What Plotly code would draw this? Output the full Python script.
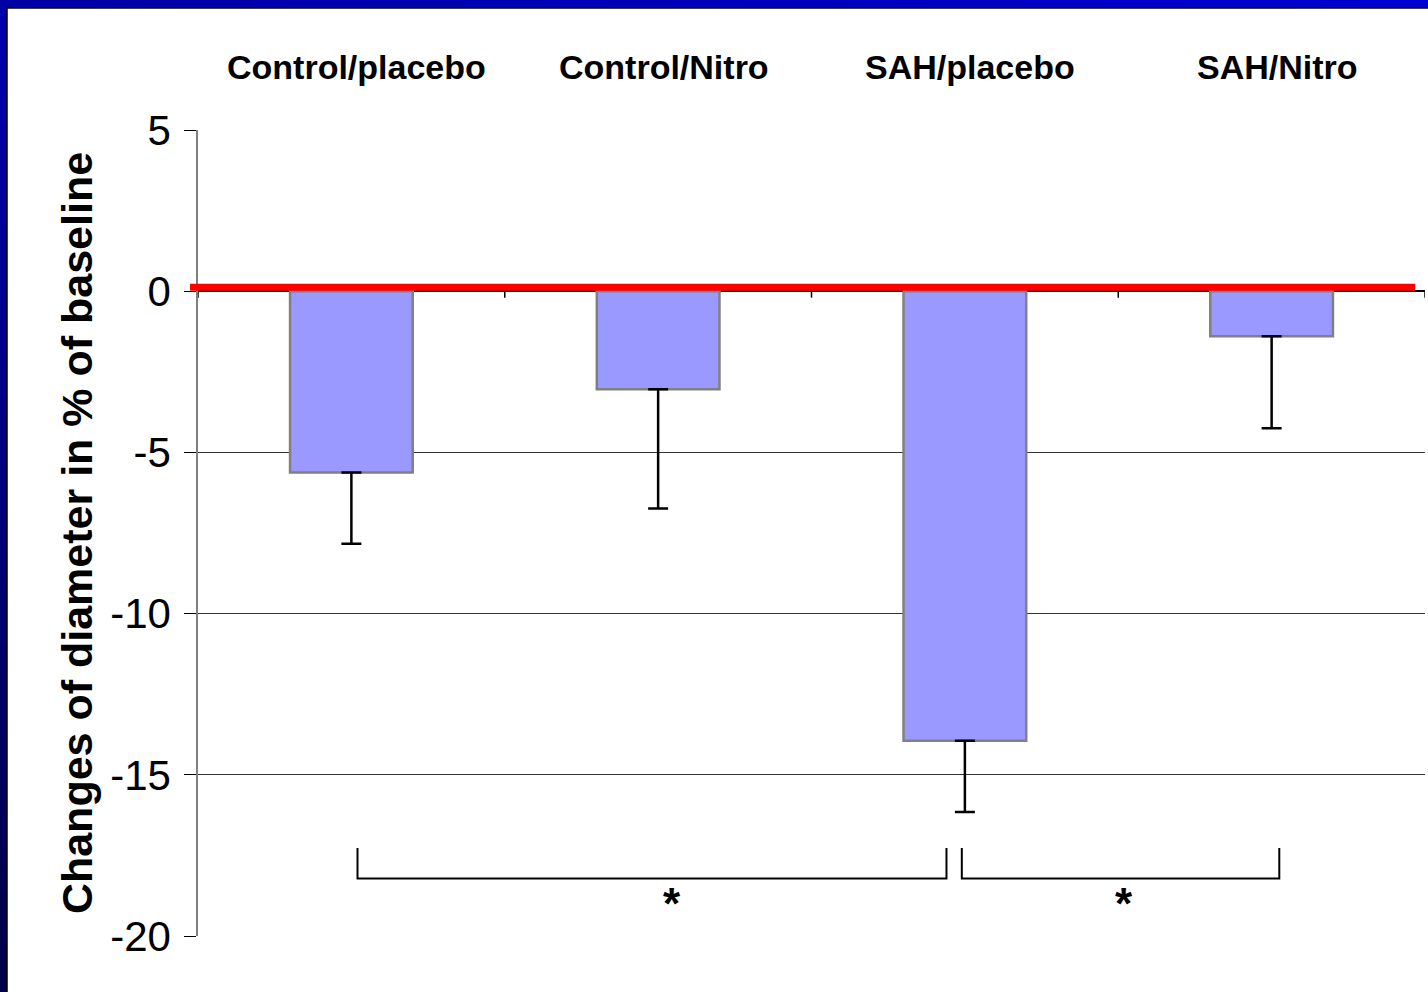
import plotly.graph_objects as go

# Group means and lower SEM of vessel diameter change (% of baseline)
groups = ["Control/placebo", "Control/Nitro", "SAH/placebo", "SAH/Nitro"]
mean_change = [-5.62, -3.04, -13.94, -1.40]
sem_minus = [2.21, 3.70, 2.21, 2.85]
y_ticks = [5, 0, -5, -10, -15, -20]

FONT = "Arial, Liberation Sans, sans-serif"
x_pos = list(range(len(groups)))

fig = go.Figure()
fig.add_trace(go.Bar(
    x=x_pos, y=mean_change, width=0.4,
    marker=dict(color="#9999FF", line=dict(color="#808080", width=2.5)),
    error_y=dict(type="data", symmetric=False, array=[0] * len(groups),
                 arrayminus=sem_minus, color="black", thickness=2.5, width=10),
    showlegend=False, hoverinfo="skip",
))

shapes = []
# category separators hanging below the zero line
for b in [i - 0.5 for i in range(len(groups) + 1)]:
    shapes.append(dict(type="line", xref="x", yref="y", x0=b, x1=b, y0=0, y1=-0.2,
                       line=dict(color="black", width=1.5)))
# red baseline at zero
shapes.append(dict(type="line", xref="paper", yref="y", x0=-0.0065, x1=0.992,
                   y0=0.12, y1=0.12, line=dict(color="#FF0000", width=7), layer="above"))

# significance brackets: (left x, right x, label x)
brackets = [(0.02, 1.94, 1.045), (1.99, 3.025, 2.52)]
br_y, br_top = -18.22, -17.27
for x0, x1, xs in brackets:
    shapes.append(dict(type="path", xref="x", yref="y",
                       path=f"M {x0},{br_top} L {x0},{br_y} L {x1},{br_y} L {x1},{br_top}",
                       line=dict(color="black", width=2)))

# blue slide frame (left and top edges) drawn in overlapping stepped shades
n = 40
px_h = 992 / 806
for k in range(n):
    t = k / (n - 1)
    c = (0, 0, int(175 - 100 * t))
    top = 1.1614 - (k / n) * px_h
    bot = 1.1614 - ((k + 1.5) / n) * px_h
    shapes.append(dict(type="rect", xref="paper", yref="paper",
                       x0=-198 / 1227, x1=-191 / 1227, y0=bot, y1=top,
                       fillcolor=f"rgb{c}", line=dict(width=0), layer="above"))
for k in range(n):
    t = k / (n - 1)
    c2 = (0, 0, int(165 + 45 * t))
    xa = (-198 + 1428 * k / n) / 1227
    xb = (-198 + 1428 * (k + 1.5) / n) / 1227
    shapes.append(dict(type="rect", xref="paper", yref="paper",
                       x0=xa, x1=xb, y0=(936 - 8) / 806, y1=936 / 806,
                       fillcolor=f"rgb{c2}", line=dict(width=0), layer="above"))
shapes.append(dict(type="line", xref="paper", yref="paper", x0=-191 / 1227, x1=-191 / 1227,
                   y0=(936 - 992) / 806, y1=(936 - 8) / 806,
                   line=dict(color="black", width=1.5), layer="above"))
shapes.append(dict(type="line", xref="paper", yref="paper", x0=-191 / 1227, x1=1230 / 1227,
                   y0=(936 - 8) / 806, y1=(936 - 8) / 806,
                   line=dict(color="black", width=1.5), layer="above"))

annotations = []
for i, g in enumerate(groups):
    annotations.append(dict(x=i + 0.018, y=(936 - 67) / 806, xref="x", yref="paper",
                            text=f"<b>{g}</b>", showarrow=False,
                            font=dict(family=FONT, size=34, color="black"),
                            xanchor="center", yanchor="middle"))
for _, _, xs in brackets:
    annotations.append(dict(x=xs, y=-19.0, xref="x", yref="y", text="<b>*</b>", showarrow=False,
                            font=dict(family=FONT, size=44, color="black"),
                            xanchor="center", yanchor="middle"))

fig.update_layout(
    width=1428, height=992,
    margin=dict(l=198, r=3, t=130, b=56),
    paper_bgcolor="white", plot_bgcolor="white",
    shapes=shapes, annotations=annotations,
    xaxis=dict(range=[-0.5, 3.5], showticklabels=False, showgrid=False,
               zeroline=False, showline=False, ticks=""),
    yaxis=dict(range=[-20, 5], tickvals=y_ticks, ticktext=[str(v) for v in y_ticks],
               tickfont=dict(family=FONT, size=42, color="black"),
               ticklabelstandoff=5,
               showgrid=True, gridcolor="#333333", gridwidth=1,
               zeroline=True, zerolinecolor="black", zerolinewidth=1.5,
               showline=True, linecolor="#808080", linewidth=1.5,
               ticks="outside", ticklen=12, tickcolor="black", tickwidth=1,
               title=dict(text="<b>Changes of diameter in % of baseline</b>",
                          font=dict(family=FONT, size=43, color="black"), standoff=4)),
)

fig.write_html("out.html")
